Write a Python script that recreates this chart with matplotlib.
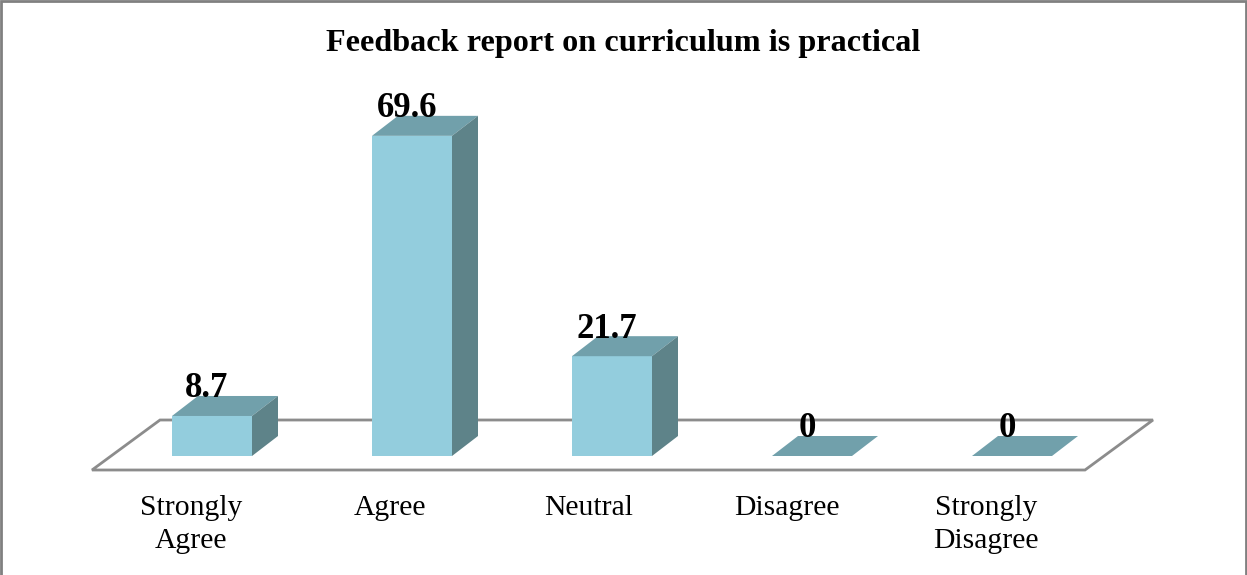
import matplotlib
matplotlib.use("Agg")
import matplotlib.pyplot as plt
from matplotlib.patches import Polygon

categories = ["Strongly\nAgree", "Agree", "Neutral", "Disagree", "Strongly\nDisagree"]
values = [8.7, 69.6, 21.7, 0, 0]
value_labels = ["8.7", "69.6", "21.7", "0", "0"]
title = "Feedback report on curriculum is practical"

FRONT = "#93CDDD"
TOP = "#71A0AB"
SIDE = "#5E8389"
FLOOR_EDGE = "#8C8C8C"

plt.rcParams["font.family"] = ["Liberation Serif", "DejaVu Serif"]

W, H = 1247, 575
fig = plt.figure(figsize=(W / 100, H / 100), dpi=100)
ax = fig.add_axes([0, 0, 1, 1])

# pixel mapping: x data = category index, y data = value
px_per_cat = 200.0
px_per_val = 4.6
x0_px = 212.0   # pixel x of first bar centre
y0_px = 456.0   # pixel y (from top) of value 0
ax.set_xlim((0 - x0_px) / px_per_cat, (W - x0_px) / px_per_cat)
ax.set_ylim((y0_px - H) / px_per_val, (y0_px - 0) / px_per_val)
ax.axis("off")

# 3D offsets
bw = 0.4
ddx = 26 / px_per_cat
ddy = 20 / px_per_val

# floor
fx = 68 / px_per_cat
fy = 50 / px_per_val
f_front = -14 / px_per_val
f_left = (92 - x0_px) / px_per_cat
f_right = (1085 - x0_px) / px_per_cat
floor = Polygon([(f_left, f_front), (f_right, f_front),
                 (f_right + fx, f_front + fy), (f_left + fx, f_front + fy)],
                closed=True, facecolor="white", edgecolor=FLOOR_EDGE, lw=2, zorder=1)
ax.add_patch(floor)

xs = list(range(len(values)))
ax.bar(xs, values, width=bw, bottom=0, color=FRONT, edgecolor="none", zorder=3)
for x, v, lab in zip(xs, values, value_labels):
    l, r = x - bw / 2, x + bw / 2
    top = Polygon([(l, v), (r, v), (r + ddx, v + ddy), (l + ddx, v + ddy)],
                  closed=True, facecolor=TOP, edgecolor="none", zorder=3)
    ax.add_patch(top)
    if v > 0:
        side = Polygon([(r, 0), (r + ddx, ddy), (r + ddx, v + ddy), (r, v)],
                       closed=True, facecolor=SIDE, edgecolor="none", zorder=3)
        ax.add_patch(side)
    ax.text(x - 0.025, v + ddy - 0.3, lab, ha="center", va="baseline",
            fontsize=25, fontweight="bold", zorder=5)

# category labels centred on floor front edge
cat_w = (f_right - f_left) / len(categories)
for i, c in enumerate(categories):
    cx = f_left + cat_w * (i + 0.5)
    ax.text(cx, f_front - 5.4, c, ha="center", va="top", fontsize=21.3,
            linespacing=1.38, zorder=5)

fig.text(0.5, 1 - 43 / H, title, ha="center", va="center",
         fontsize=23.2, fontweight="bold")

# outer border
border = plt.Rectangle((1 / W, -0.01), 1 - 2 / W, 1.01 - 1 / H, transform=fig.transFigure,
                       fill=False, edgecolor="#808080", lw=2)
fig.patches.append(border)

fig.savefig("out.png", dpi=100)
